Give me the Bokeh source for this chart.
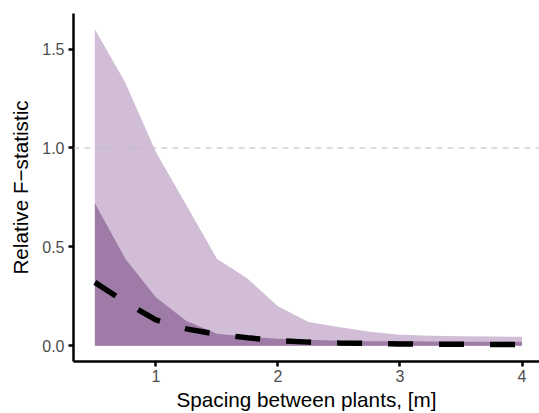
from bokeh.plotting import figure
from bokeh.models import Range1d, FixedTicker, PrintfTickFormatter, Span
from bokeh.embed import file_html
from bokeh.resources import INLINE

# Data
spacing = [0.5, 0.75, 1.0, 1.25, 1.5, 1.75, 2.0, 2.25, 2.5, 2.75, 3.0, 3.25, 3.5, 3.75, 4.0]
upper_outer = [1.60, 1.33, 0.98, 0.71, 0.44, 0.34, 0.20, 0.12, 0.095, 0.07, 0.055, 0.05, 0.048, 0.046, 0.045]
upper_inner = [0.72, 0.44, 0.245, 0.125, 0.06, 0.045, 0.035, 0.03, 0.025, 0.023, 0.022, 0.021, 0.02, 0.02, 0.02]
lower = [0.0] * len(spacing)
median = [0.32, 0.22, 0.13, 0.085, 0.058, 0.04, 0.025, 0.018, 0.014, 0.011, 0.009, 0.008, 0.007, 0.006, 0.006]
x_ticks = [1, 2, 3, 4]
y_ticks = [0.0, 0.5, 1.0, 1.5]
ref_level = 1.0

FONT = "Liberation Sans"

p = figure(width=539, height=413, output_backend="svg", toolbar_location=None,
           x_range=Range1d(0.325, 4.143), y_range=Range1d(-0.08, 1.68),
           min_border_left=73, min_border_right=0, min_border_top=13, min_border_bottom=50)
p.outline_line_color = None
p.grid.visible = False
p.background_fill_color = "white"

p.varea(x=spacing, y1=lower, y2=upper_outer, fill_color="#D1BED6", fill_alpha=1.0)
p.varea(x=spacing, y1=lower, y2=upper_inner, fill_color="#9F7CA7", fill_alpha=1.0)

p.add_layout(Span(location=ref_level, dimension="width", line_color="#BBBBBB",
                  line_width=1, line_dash="6 5"))

p.line(spacing, median, line_color="black", line_width=5.5, line_dash="25 26")

for ax in (p.xaxis[0], p.yaxis[0]):
    ax.axis_line_color = "black"
    ax.axis_line_width = 2.5
    ax.major_tick_line_color = "black"
    ax.major_tick_line_width = 2.5
    ax.major_tick_out = 5
    ax.major_tick_in = 0
    ax.minor_tick_line_color = None
    ax.major_label_text_font = FONT
    ax.major_label_text_font_size = "16px"
    ax.major_label_text_color = "#4D4D4D"
    ax.axis_label_text_font = FONT
    ax.axis_label_text_font_size = "20.7px"
    ax.axis_label_text_font_style = "normal"
    ax.axis_label_text_color = "black"

p.xaxis.ticker = FixedTicker(ticks=x_ticks)
p.yaxis.ticker = FixedTicker(ticks=y_ticks)
p.yaxis.formatter = PrintfTickFormatter(format="%.1f")
p.xaxis.axis_label = "Spacing between plants, [m]"
p.yaxis.axis_label = "Relative F\u2212statistic"
p.xaxis.major_label_standoff = 3
p.yaxis.major_label_standoff = 4
p.xaxis.axis_label_standoff = 3
p.yaxis.axis_label_standoff = 7

open("out.html", "w").write(file_html(p, INLINE))
